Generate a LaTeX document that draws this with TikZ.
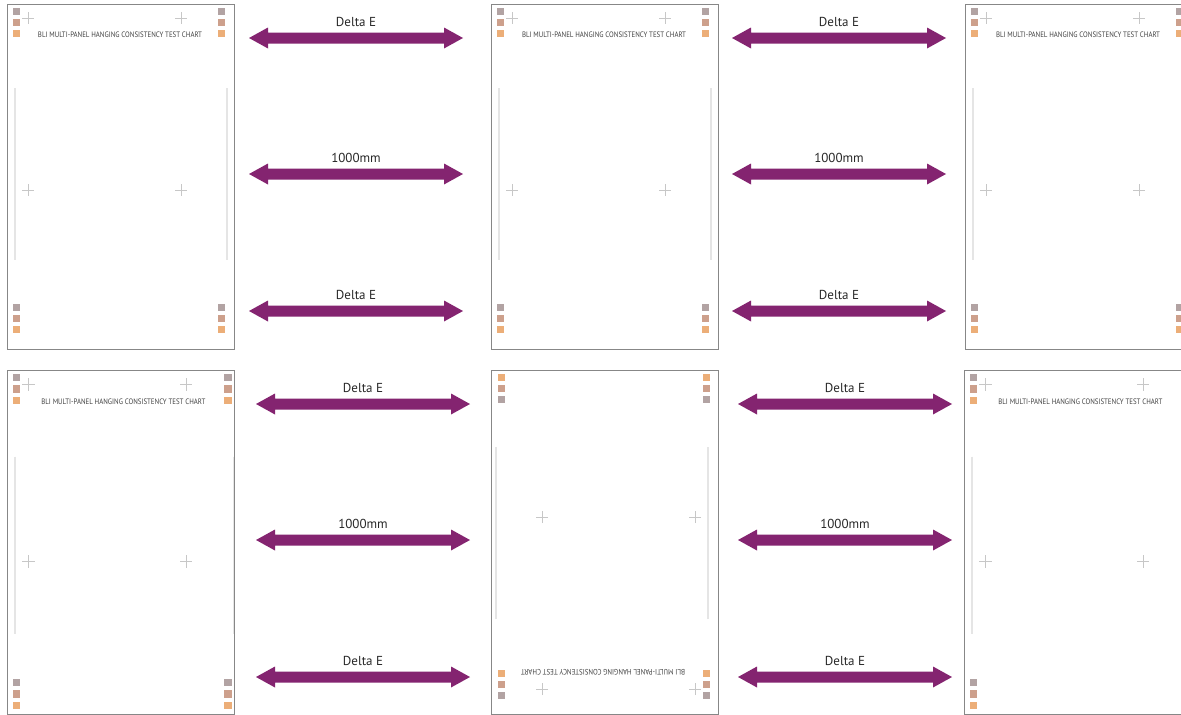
\documentclass[tikz,border=0pt]{standalone}
\usepackage{fontspec}
\setmainfont{PT Sans}
\usepackage{graphicx}
\usetikzlibrary{calc}
\definecolor{arrowpurple}{RGB}{132,36,112}
\definecolor{swgrey}{RGB}{178,163,163}
\definecolor{swbrown}{RGB}{205,160,140}
\definecolor{sworange}{RGB}{236,174,120}
\definecolor{panelborder}{RGB}{135,135,135}
\definecolor{labeltext}{RGB}{40,40,40}
\tikzset{
  panelframe/.style={draw=panelborder, line width=1.1pt},
  crossmark/.style={draw=black!22, line width=0.45pt},
  guideline/.style={draw=black!10, line width=1.6pt},
  charttitle/.style={text=black!75, inner sep=0pt},
  arrowlabel/.style={text=labeltext, font=\fontsize{13}{15}\selectfont, inner sep=0pt},
}
\newcommand\chartcontent[1]{%
  \foreach \sx in {6,211}{
    \fill[swgrey]   (\sx,4)   rectangle ++(7,7);
    \fill[swbrown]  (\sx,15)  rectangle ++(7,7);
    \fill[sworange] (\sx,26)  rectangle ++(7,7);
    \fill[swgrey]   (\sx,300) rectangle ++(7,7);
    \fill[swbrown]  (\sx,311) rectangle ++(7,7);
    \fill[sworange] (\sx,322) rectangle ++(7,7);
  }
  \foreach \cx/\cy in {21/14,174/14,21/186,174/186}{
    \draw[crossmark] (\cx-6,\cy) -- (\cx+6,\cy) (\cx,\cy-6) -- (\cx,\cy+6);
  }
  \draw[guideline] (8,84) -- (8,256);
  \draw[guideline] (220,84) -- (220,256);
  \node[charttitle] (#1title) at (113,31)
    {\resizebox{164pt}{5.6pt}{BLI MULTI-PANEL HANGING CONSISTENCY TEST CHART}};
}
\newcommand\fatarrow[4]{% left coord, right coord, label node name, label
  \fill[arrowpurple] (#1) -- ++(19,-10.5) -- ++(0,5) -- ($(#2)+(-19,-5.5)$) -- ++(0,-5)
     -- (#2) -- ++(-19,10.5) -- ++(0,-5) -- ($(#1)+(19,5.5)$) -- ++(0,5) -- cycle;
  \node[arrowlabel] (#3) at ($(#1)!0.5!(#2)+(0,-16)$) {#4};
}
\begin{document}
\begin{tikzpicture}[x=1pt,y=-1pt]
\useasboundingbox (0,0) rectangle (1181,715);
\clip (0,0) rectangle (1181,715);
\fill[white] (0,0) rectangle (1181,715);

% top row panels
\begin{scope}[shift={(7,4)}]
  \chartcontent{pA}
  \node[panelframe, minimum width=227pt, minimum height=345pt, inner sep=0pt, anchor=north west] (pA) at (0,0) {};
\end{scope}
\begin{scope}[shift={(491,4)}]
  \chartcontent{pB}
  \node[panelframe, minimum width=227pt, minimum height=345pt, inner sep=0pt, anchor=north west] (pB) at (0,0) {};
\end{scope}
\begin{scope}[shift={(965,4)}]
  \chartcontent{pC}
  \node[panelframe, minimum width=227pt, minimum height=345pt, inner sep=0pt, anchor=north west] (pC) at (0,0) {};
\end{scope}

% bottom row panels
\begin{scope}[shift={(7,370)}]
  \begin{scope}
    \clip (0,0) rectangle (227,344);
    \begin{scope}[scale=1.03]
      \chartcontent{pD}
    \end{scope}
  \end{scope}
  \node[panelframe, minimum width=227pt, minimum height=344pt, inner sep=0pt, anchor=north west] (pD) at (0,0) {};
\end{scope}
\begin{scope}[shift={(491,370)}]
  \begin{scope}
    \clip (0,0) rectangle (227,344);
    \begin{scope}[shift={(-2,-12)}, rotate around={180:(113.5,172.5)}, every node/.append style={transform shape}]
      \chartcontent{pE}
    \end{scope}
  \end{scope}
  \node[panelframe, minimum width=227pt, minimum height=344pt, inner sep=0pt, anchor=north west] (pE) at (0,0) {};
\end{scope}
\begin{scope}[shift={(964,370)}]
  \begin{scope}
    \clip (0,0) rectangle (227,344);
    \begin{scope}[scale=1.03]
      \chartcontent{pF}
    \end{scope}
  \end{scope}
  \node[panelframe, minimum width=227pt, minimum height=344pt, inner sep=0pt, anchor=north west] (pF) at (0,0) {};
\end{scope}

% arrow end points
\coordinate (t1l) at (249,38);  \coordinate (t1r) at (463,38);
\coordinate (t2l) at (249,174); \coordinate (t2r) at (463,174);
\coordinate (t3l) at (249,311); \coordinate (t3r) at (463,311);
\coordinate (u1l) at (732,38);  \coordinate (u1r) at (946,38);
\coordinate (u2l) at (732,174); \coordinate (u2r) at (946,174);
\coordinate (u3l) at (732,311); \coordinate (u3r) at (946,311);
\coordinate (b1l) at (256,404); \coordinate (b1r) at (470,404);
\coordinate (b2l) at (256,540); \coordinate (b2r) at (470,540);
\coordinate (b3l) at (256,677); \coordinate (b3r) at (470,677);
\coordinate (c1l) at (738,404); \coordinate (c1r) at (952,404);
\coordinate (c2l) at (738,540); \coordinate (c2r) at (952,540);
\coordinate (c3l) at (738,677); \coordinate (c3r) at (952,677);

\fatarrow{t1l}{t1r}{lt1}{Delta E}
\fatarrow{t2l}{t2r}{lt2}{1000mm}
\fatarrow{t3l}{t3r}{lt3}{Delta E}
\fatarrow{u1l}{u1r}{lu1}{Delta E}
\fatarrow{u2l}{u2r}{lu2}{1000mm}
\fatarrow{u3l}{u3r}{lu3}{Delta E}
\fatarrow{b1l}{b1r}{lb1}{Delta E}
\fatarrow{b2l}{b2r}{lb2}{1000mm}
\fatarrow{b3l}{b3r}{lb3}{Delta E}
\fatarrow{c1l}{c1r}{lc1}{Delta E}
\fatarrow{c2l}{c2r}{lc2}{1000mm}
\fatarrow{c3l}{c3r}{lc3}{Delta E}
\end{tikzpicture}
\end{document}
